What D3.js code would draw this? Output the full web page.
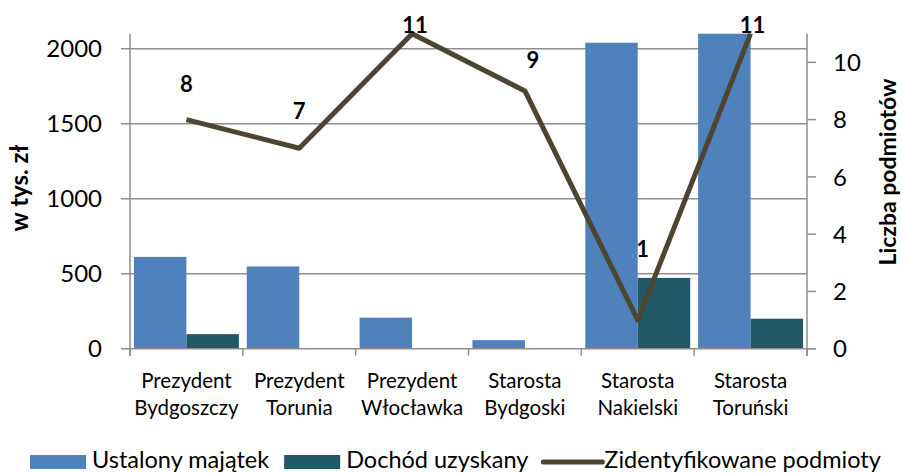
<!DOCTYPE html>
<html><head><meta charset="utf-8">
<script src="https://cdn.jsdelivr.net/npm/d3@7"></script>
<style>
body{margin:0;background:#fff;}
svg{display:block;font-family:Lato,"Open Sans",sans-serif;}
</style></head>
<body><svg id="c" width="903" height="473"></svg>
<script>
const categories = [["Prezydent","Bydgoszczy"],["Prezydent","Torunia"],["Prezydent","Włocławka"],["Starosta","Bydgoski"],["Starosta","Nakielski"],["Starosta","Toruński"]];
const ustalonyMajatek = [612, 548, 207, 57, 2040, 2100];
const dochodUzyskany = [97, 0, 0, 0, 472, 200];
const podmioty = [8, 7, 11, 9, 1, 11];
const leftTicks = [0, 500, 1000, 1500, 2000];
const rightTicks = [0, 2, 4, 6, 8, 10];
const seriesNames = ["Ustalony majątek", "Dochód uzyskany", "Zidentyfikowane podmioty"];
const leftTitle = "w tys. zł";
const rightTitle = "Liczba podmiotów";
// label nudges (annotation placement, pixels)
const labelNudges = [[0,-28],[0,-29],[3,-1],[8,-23],[5,-63],[2,-1]];

const colors = {blue:"#4f81bd", teal:"#215967", line:"#4b4531", grid:"#8e8e8e"};
const svg = d3.select("#c");
const L = 130, R = 807, T = 33.7, B = 348.7;

const x = d3.scaleBand().domain(d3.range(categories.length)).range([L, R]).paddingInner(0.07).paddingOuter(0.035);
const xs = d3.scaleBand().domain([0,1]).range([0, x.bandwidth()]);
const yL = d3.scaleLinear().domain([0, 2100]).range([B, T]);
const yR = d3.scaleLinear().domain([0, 11]).range([B, T]);
const step = (R - L) / categories.length;

// gridlines
svg.append("g").selectAll("line").data(leftTicks.filter(d => d > 0)).join("line")
  .attr("x1", L - 9).attr("x2", R).attr("y1", d => yL(d)).attr("y2", d => yL(d))
  .attr("stroke", colors.grid).attr("stroke-width", 1.5);

// bars
const g = svg.append("g");
g.selectAll("rect.u").data(ustalonyMajatek).join("rect").attr("class","u")
  .attr("x", (d,i) => x(i) + xs(0)).attr("width", xs.bandwidth())
  .attr("y", d => yL(d)).attr("height", d => B - yL(d)).attr("fill", colors.blue);
g.selectAll("rect.d").data(dochodUzyskany).join("rect").attr("class","d")
  .attr("x", (d,i) => x(i) + xs(1)).attr("width", xs.bandwidth())
  .attr("y", d => yL(d)).attr("height", d => B - yL(d)).attr("fill", colors.teal);

// axes lines
const ax = svg.append("g").attr("stroke", colors.grid).attr("stroke-width", 1.5);
ax.append("line").attr("x1", L).attr("x2", L).attr("y1", T).attr("y2", B + 7);
ax.append("line").attr("x1", R).attr("x2", R).attr("y1", T).attr("y2", B + 7);
ax.append("line").attr("x1", L - 9).attr("x2", R + 9).attr("y1", B).attr("y2", B);
ax.selectAll("line.rt").data(rightTicks).join("line").attr("class","rt")
  .attr("x1", R).attr("x2", R + 9).attr("y1", d => yR(d)).attr("y2", d => yR(d));
ax.selectAll("line.bt").data(d3.range(categories.length + 1)).join("line").attr("class","bt")
  .attr("x1", i => L + i * step).attr("x2", i => L + i * step).attr("y1", B).attr("y2", B + 7);

// tick labels
svg.append("g").selectAll("text").data(leftTicks).join("text")
  .attr("x", 102).attr("y", d => yL(d)).attr("dy", "0.36em").attr("text-anchor", "end")
  .attr("font-size", 24).attr("fill", "#000").text(d => d);
svg.append("g").selectAll("text").data(rightTicks).join("text")
  .attr("x", 833).attr("y", d => yR(d)).attr("dy", "0.36em").attr("text-anchor", "start")
  .attr("font-size", 24).attr("fill", "#000").text(d => d);

// category labels
const cl = svg.append("g").selectAll("text").data(categories).join("text")
  .attr("text-anchor", "middle").attr("font-size", 20.5).attr("fill", "#000");
cl.append("tspan").attr("x", (d,i) => x(i) + x.bandwidth()/2).attr("y", 388).text(d => d[0]);
cl.append("tspan").attr("x", (d,i) => x(i) + x.bandwidth()/2).attr("y", 415).text(d => d[1]);

// line
const px = i => x(i) + x.bandwidth()/2;
svg.append("path").datum(podmioty)
  .attr("d", d3.line().x((d,i) => px(i)).y(d => yR(d)))
  .attr("fill", "none").attr("stroke", colors.line).attr("stroke-width", 5).attr("stroke-linejoin", "round");

svg.append("g").selectAll("text").data(podmioty).join("text")
  .attr("x", (d,i) => px(i) + labelNudges[i][0]).attr("y", (d,i) => yR(d) + labelNudges[i][1])
  .attr("text-anchor", "middle").attr("font-size", 22).attr("font-weight", "bold").attr("fill", "#000").text(d => d);

// axis titles
svg.append("text").attr("transform", "translate(28,188) rotate(-90)").attr("text-anchor", "middle")
  .attr("font-size", 24).attr("font-weight", "bold").attr("fill", "#000").text(leftTitle);
svg.append("text").attr("transform", "translate(896,172) rotate(-90)").attr("text-anchor", "middle")
  .attr("font-size", 23).attr("font-weight", "bold").attr("fill", "#000").text(rightTitle);

// legend
const lg = svg.append("g");
const items = [{n: seriesNames[0], t: "rect", c: colors.blue}, {n: seriesNames[1], t: "rect", c: colors.teal}, {n: seriesNames[2], t: "line", c: colors.line}];
let cx = 30;
const ly = 462;
items.forEach((it, k) => {
  if (it.t === "rect") {
    lg.append("rect").attr("x", cx).attr("y", ly - 7).attr("width", 56).attr("height", 14).attr("fill", it.c);
    cx += 62;
  } else {
    lg.append("line").attr("x1", cx).attr("x2", cx + 59).attr("y1", ly).attr("y2", ly)
      .attr("stroke", it.c).attr("stroke-width", 5).attr("stroke-linecap", "round");
    cx += 61;
  }
  const t = lg.append("text").attr("x", cx).attr("y", 468)
    .attr("font-size", 23.5).attr("fill", "#000").text(it.n);
  cx += t.node().getComputedTextLength() + 15;
});
</script></body></html>
